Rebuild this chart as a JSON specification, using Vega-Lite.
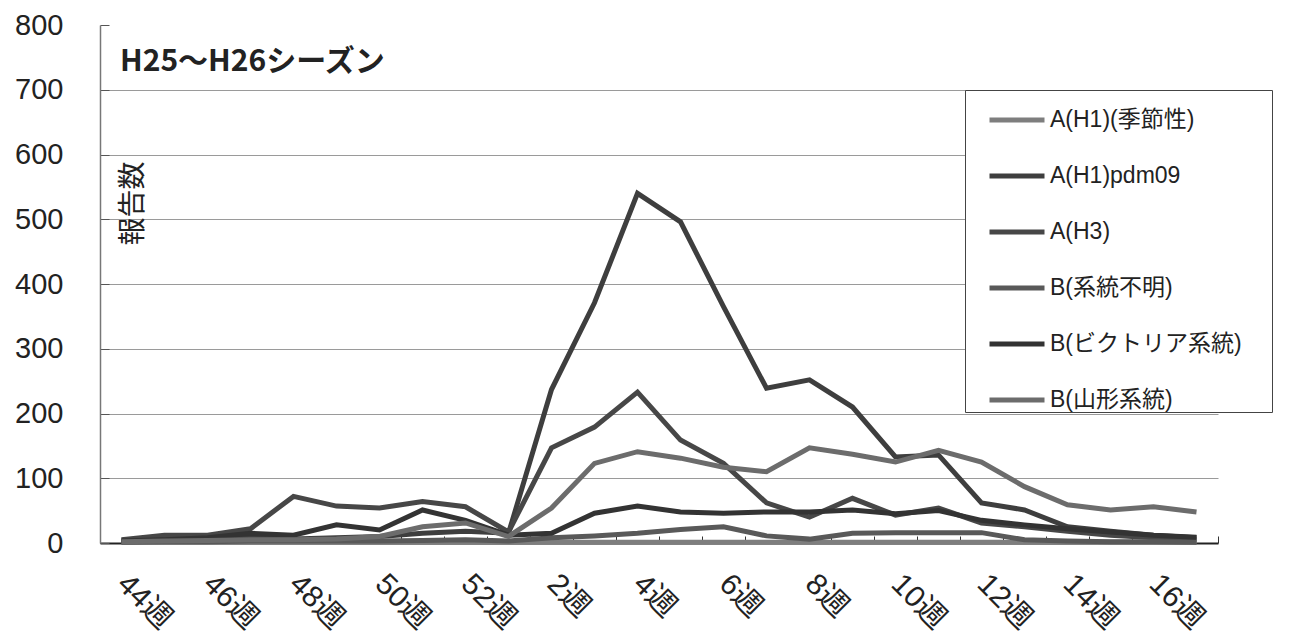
{
  "$schema": "https://vega.github.io/schema/vega-lite/v6.json",
  "width": 1118,
  "height": 518,
  "autosize": "none",
  "padding": {"left": 100, "top": 25, "right": 74, "bottom": 96},
  "background": "white",
  "title": {"text": "H25～H26シーズン", "anchor": "start", "frame": "group", "offset": -90, "dx": 20, "fontSize": 30, "font": "Noto Sans CJK JP", "fontWeight": "bold", "color": "#222", "baseline": "alphabetic"},
  "data": {"values": [
    {"week": "44週", "series": "A(H1)(季節性)", "value": 1},
    {"week": "45週", "series": "A(H1)(季節性)", "value": 1},
    {"week": "46週", "series": "A(H1)(季節性)", "value": 1},
    {"week": "47週", "series": "A(H1)(季節性)", "value": 1},
    {"week": "48週", "series": "A(H1)(季節性)", "value": 1},
    {"week": "49週", "series": "A(H1)(季節性)", "value": 1},
    {"week": "50週", "series": "A(H1)(季節性)", "value": 1},
    {"week": "51週", "series": "A(H1)(季節性)", "value": 1},
    {"week": "52週", "series": "A(H1)(季節性)", "value": 1},
    {"week": "1週", "series": "A(H1)(季節性)", "value": 1},
    {"week": "2週", "series": "A(H1)(季節性)", "value": 1},
    {"week": "3週", "series": "A(H1)(季節性)", "value": 1},
    {"week": "4週", "series": "A(H1)(季節性)", "value": 1},
    {"week": "5週", "series": "A(H1)(季節性)", "value": 1},
    {"week": "6週", "series": "A(H1)(季節性)", "value": 1},
    {"week": "7週", "series": "A(H1)(季節性)", "value": 1},
    {"week": "8週", "series": "A(H1)(季節性)", "value": 1},
    {"week": "9週", "series": "A(H1)(季節性)", "value": 1},
    {"week": "10週", "series": "A(H1)(季節性)", "value": 1},
    {"week": "11週", "series": "A(H1)(季節性)", "value": 1},
    {"week": "12週", "series": "A(H1)(季節性)", "value": 1},
    {"week": "13週", "series": "A(H1)(季節性)", "value": 1},
    {"week": "14週", "series": "A(H1)(季節性)", "value": 1},
    {"week": "15週", "series": "A(H1)(季節性)", "value": 1},
    {"week": "16週", "series": "A(H1)(季節性)", "value": 1},
    {"week": "17週", "series": "A(H1)(季節性)", "value": 1},

    {"week": "44週", "series": "A(H1)pdm09", "value": 3},
    {"week": "45週", "series": "A(H1)pdm09", "value": 5},
    {"week": "46週", "series": "A(H1)pdm09", "value": 6},
    {"week": "47週", "series": "A(H1)pdm09", "value": 8},
    {"week": "48週", "series": "A(H1)pdm09", "value": 6},
    {"week": "49週", "series": "A(H1)pdm09", "value": 8},
    {"week": "50週", "series": "A(H1)pdm09", "value": 10},
    {"week": "51週", "series": "A(H1)pdm09", "value": 15},
    {"week": "52週", "series": "A(H1)pdm09", "value": 18},
    {"week": "1週", "series": "A(H1)pdm09", "value": 15},
    {"week": "2週", "series": "A(H1)pdm09", "value": 237},
    {"week": "3週", "series": "A(H1)pdm09", "value": 371},
    {"week": "4週", "series": "A(H1)pdm09", "value": 540},
    {"week": "5週", "series": "A(H1)pdm09", "value": 496},
    {"week": "6週", "series": "A(H1)pdm09", "value": 365},
    {"week": "7週", "series": "A(H1)pdm09", "value": 239},
    {"week": "8週", "series": "A(H1)pdm09", "value": 252},
    {"week": "9週", "series": "A(H1)pdm09", "value": 210},
    {"week": "10週", "series": "A(H1)pdm09", "value": 133},
    {"week": "11週", "series": "A(H1)pdm09", "value": 136},
    {"week": "12週", "series": "A(H1)pdm09", "value": 62},
    {"week": "13週", "series": "A(H1)pdm09", "value": 51},
    {"week": "14週", "series": "A(H1)pdm09", "value": 25},
    {"week": "15週", "series": "A(H1)pdm09", "value": 18},
    {"week": "16週", "series": "A(H1)pdm09", "value": 12},
    {"week": "17週", "series": "A(H1)pdm09", "value": 8},

    {"week": "44週", "series": "A(H3)", "value": 5},
    {"week": "45週", "series": "A(H3)", "value": 12},
    {"week": "46週", "series": "A(H3)", "value": 12},
    {"week": "47週", "series": "A(H3)", "value": 22},
    {"week": "48週", "series": "A(H3)", "value": 72},
    {"week": "49週", "series": "A(H3)", "value": 57},
    {"week": "50週", "series": "A(H3)", "value": 54},
    {"week": "51週", "series": "A(H3)", "value": 64},
    {"week": "52週", "series": "A(H3)", "value": 56},
    {"week": "1週", "series": "A(H3)", "value": 17},
    {"week": "2週", "series": "A(H3)", "value": 147},
    {"week": "3週", "series": "A(H3)", "value": 179},
    {"week": "4週", "series": "A(H3)", "value": 233},
    {"week": "5週", "series": "A(H3)", "value": 159},
    {"week": "6週", "series": "A(H3)", "value": 123},
    {"week": "7週", "series": "A(H3)", "value": 62},
    {"week": "8週", "series": "A(H3)", "value": 40},
    {"week": "9週", "series": "A(H3)", "value": 69},
    {"week": "10週", "series": "A(H3)", "value": 43},
    {"week": "11週", "series": "A(H3)", "value": 54},
    {"week": "12週", "series": "A(H3)", "value": 31},
    {"week": "13週", "series": "A(H3)", "value": 25},
    {"week": "14週", "series": "A(H3)", "value": 18},
    {"week": "15週", "series": "A(H3)", "value": 12},
    {"week": "16週", "series": "A(H3)", "value": 8},
    {"week": "17週", "series": "A(H3)", "value": 5},

    {"week": "44週", "series": "B(系統不明)", "value": 1},
    {"week": "45週", "series": "B(系統不明)", "value": 2},
    {"week": "46週", "series": "B(系統不明)", "value": 2},
    {"week": "47週", "series": "B(系統不明)", "value": 3},
    {"week": "48週", "series": "B(系統不明)", "value": 3},
    {"week": "49週", "series": "B(系統不明)", "value": 3},
    {"week": "50週", "series": "B(系統不明)", "value": 3},
    {"week": "51週", "series": "B(系統不明)", "value": 4},
    {"week": "52週", "series": "B(系統不明)", "value": 5},
    {"week": "1週", "series": "B(系統不明)", "value": 3},
    {"week": "2週", "series": "B(系統不明)", "value": 8},
    {"week": "3週", "series": "B(系統不明)", "value": 11},
    {"week": "4週", "series": "B(系統不明)", "value": 15},
    {"week": "5週", "series": "B(系統不明)", "value": 21},
    {"week": "6週", "series": "B(系統不明)", "value": 25},
    {"week": "7週", "series": "B(系統不明)", "value": 11},
    {"week": "8週", "series": "B(系統不明)", "value": 6},
    {"week": "9週", "series": "B(系統不明)", "value": 15},
    {"week": "10週", "series": "B(系統不明)", "value": 16},
    {"week": "11週", "series": "B(系統不明)", "value": 16},
    {"week": "12週", "series": "B(系統不明)", "value": 16},
    {"week": "13週", "series": "B(系統不明)", "value": 5},
    {"week": "14週", "series": "B(系統不明)", "value": 3},
    {"week": "15週", "series": "B(系統不明)", "value": 2},
    {"week": "16週", "series": "B(系統不明)", "value": 2},
    {"week": "17週", "series": "B(系統不明)", "value": 1},

    {"week": "44週", "series": "B(ビクトリア系統)", "value": 3},
    {"week": "45週", "series": "B(ビクトリア系統)", "value": 5},
    {"week": "46週", "series": "B(ビクトリア系統)", "value": 8},
    {"week": "47週", "series": "B(ビクトリア系統)", "value": 15},
    {"week": "48週", "series": "B(ビクトリア系統)", "value": 12},
    {"week": "49週", "series": "B(ビクトリア系統)", "value": 28},
    {"week": "50週", "series": "B(ビクトリア系統)", "value": 20},
    {"week": "51週", "series": "B(ビクトリア系統)", "value": 51},
    {"week": "52週", "series": "B(ビクトリア系統)", "value": 35},
    {"week": "1週", "series": "B(ビクトリア系統)", "value": 12},
    {"week": "2週", "series": "B(ビクトリア系統)", "value": 15},
    {"week": "3週", "series": "B(ビクトリア系統)", "value": 46},
    {"week": "4週", "series": "B(ビクトリア系統)", "value": 57},
    {"week": "5週", "series": "B(ビクトリア系統)", "value": 48},
    {"week": "6週", "series": "B(ビクトリア系統)", "value": 46},
    {"week": "7週", "series": "B(ビクトリア系統)", "value": 48},
    {"week": "8週", "series": "B(ビクトリア系統)", "value": 48},
    {"week": "9週", "series": "B(ビクトリア系統)", "value": 51},
    {"week": "10週", "series": "B(ビクトリア系統)", "value": 45},
    {"week": "11週", "series": "B(ビクトリア系統)", "value": 50},
    {"week": "12週", "series": "B(ビクトリア系統)", "value": 35},
    {"week": "13週", "series": "B(ビクトリア系統)", "value": 28},
    {"week": "14週", "series": "B(ビクトリア系統)", "value": 22},
    {"week": "15週", "series": "B(ビクトリア系統)", "value": 17},
    {"week": "16週", "series": "B(ビクトリア系統)", "value": 12},
    {"week": "17週", "series": "B(ビクトリア系統)", "value": 9},

    {"week": "44週", "series": "B(山形系統)", "value": 2},
    {"week": "45週", "series": "B(山形系統)", "value": 3},
    {"week": "46週", "series": "B(山形系統)", "value": 4},
    {"week": "47週", "series": "B(山形系統)", "value": 5},
    {"week": "48週", "series": "B(山形系統)", "value": 5},
    {"week": "49週", "series": "B(山形系統)", "value": 6},
    {"week": "50週", "series": "B(山形系統)", "value": 10},
    {"week": "51週", "series": "B(山形系統)", "value": 25},
    {"week": "52週", "series": "B(山形系統)", "value": 31},
    {"week": "1週", "series": "B(山形系統)", "value": 10},
    {"week": "2週", "series": "B(山形系統)", "value": 54},
    {"week": "3週", "series": "B(山形系統)", "value": 123},
    {"week": "4週", "series": "B(山形系統)", "value": 141},
    {"week": "5週", "series": "B(山形系統)", "value": 131},
    {"week": "6週", "series": "B(山形系統)", "value": 117},
    {"week": "7週", "series": "B(山形系統)", "value": 110},
    {"week": "8週", "series": "B(山形系統)", "value": 147},
    {"week": "9週", "series": "B(山形系統)", "value": 137},
    {"week": "10週", "series": "B(山形系統)", "value": 125},
    {"week": "11週", "series": "B(山形系統)", "value": 143},
    {"week": "12週", "series": "B(山形系統)", "value": 125},
    {"week": "13週", "series": "B(山形系統)", "value": 87},
    {"week": "14週", "series": "B(山形系統)", "value": 59},
    {"week": "15週", "series": "B(山形系統)", "value": 51},
    {"week": "16週", "series": "B(山形系統)", "value": 56},
    {"week": "17週", "series": "B(山形系統)", "value": 48}
  ]},
  "mark": {"type": "line", "strokeWidth": 5},
  "encoding": {
    "x": {
      "field": "week", "type": "ordinal",
      "sort": ["44週","45週","46週","47週","48週","49週","50週","51週","52週","1週","2週","3週","4週","5週","6週","7週","8週","9週","10週","11週","12週","13週","14週","15週","16週","17週"],
      "bandPosition": 0.5,
      "scale": {"type": "band", "paddingInner": 0, "paddingOuter": 0},
      "axis": {
        "title": null, "labelAngle": 45, "labelAlign": "left", "labelBaseline": "middle",
        "labelFontSize": 30, "labelFont": "Liberation Sans, Noto Sans CJK JP", "labelColor": "#222",
        "labelPadding": 43, "labelOverlap": false,
        "labelExpr": "indexof(['44週','46週','48週','50週','52週','2週','4週','6週','8週','10週','12週','14週','16週'], datum.value) >= 0 ? datum.label : ''",
        "tickBand": "extent", "tickSize": -7, "tickColor": "#333", "tickWidth": 1,
        "domainColor": "#222", "domainWidth": 2, "grid": false
      }
    },
    "y": {
      "field": "value", "type": "quantitative",
      "scale": {"domain": [0, 800], "nice": false},
      "axis": {
        "values": [0, 100, 200, 300, 400, 500, 600, 700, 800],
        "title": "報告数", "titleX": 33, "titleY": 178, "titleAlign": "center", "titleBaseline": "middle",
        "titleFontSize": 28, "titleFont": "Noto Sans CJK JP", "titleFontWeight": "normal", "titleColor": "#222",
        "labelFontSize": 29, "labelFont": "Liberation Sans", "labelColor": "#222", "labelPadding": 46,
        "tickSize": -9, "tickColor": "#555",
        "domainColor": "#777", "domainWidth": 1.5,
        "grid": true, "gridColor": "#9a9a9a", "gridWidth": 1,
        "gridOpacity": {"condition": {"test": "datum.value == 800 || datum.value == 0", "value": 0}, "value": 1}
      }
    },
    "color": {
      "field": "series", "type": "nominal",
      "scale": {
        "domain": ["A(H1)(季節性)", "A(H1)pdm09", "A(H3)", "B(系統不明)", "B(ビクトリア系統)", "B(山形系統)"],
        "range": ["#7e7e7e", "#3e3e3e", "#474747", "#595959", "#333333", "#6c6c6c"]
      },
      "legend": {
        "orient": "none", "legendX": 865, "legendY": 65,
        "title": "x", "titleOrient": "right", "titleOpacity": 0, "titleFontSize": 23, "titlePadding": 17,
        "symbolType": "stroke", "symbolSize": 3025, "symbolStrokeWidth": 5,
        "symbolOffset": 22,
        "labelFontSize": 23, "labelFont": "Liberation Sans, Noto Sans CJK JP", "labelColor": "#222",
        "labelOffset": 3, "labelLimit": 340,
        "strokeColor": "#444", "fillColor": "white", "padding": 0, "rowPadding": 14
      }
    }
  },
  "config": {"view": {"stroke": null}}
}
